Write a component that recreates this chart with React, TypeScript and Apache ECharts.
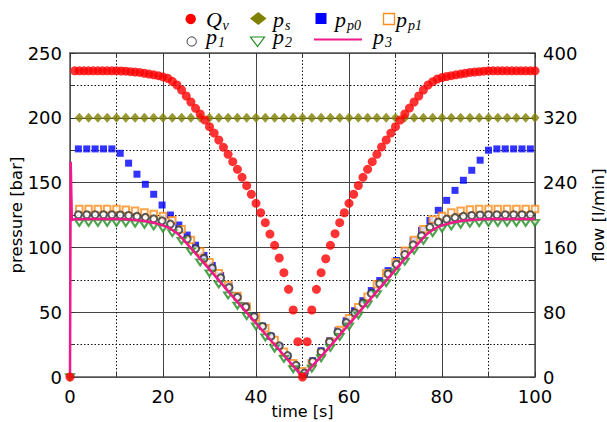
import React, { useEffect, useRef } from 'react';
import * as echarts from 'echarts';

// ---- axes ----
const timeRange = [0, 100];
const timeInterval = 20;
const pressureRange = [0, 250];
const pressureInterval = 50;
const flowRange = [0, 400];
const flowInterval = 80;

// ---- data ----
// Q_v [l/min], sampled every 1 s from t = 0
const qvStep = 1;
const qvValues = [
  0,
  378, 378, 378, 378, 378, 378, 378, 378, 378, 378,
  377.8, 377.5, 377, 376.5, 376, 375, 374, 373, 372, 370.5,
  368.8, 365, 360.5, 354.3, 346.9, 339.5, 331.7, 324.7, 317.3, 309,
  301.2, 292.6, 283.6, 274.9, 265.8, 256.4, 246.5, 236.2, 225.6, 214.4,
  202.8, 190.5, 176.5, 162.6, 146.9, 128.8, 108.3, 82.7, 43.6, 0,
  43.6, 82.7, 108.3, 128.8, 146, 162.6, 177, 190.5, 202.8, 214.4,
  225.6, 236.3, 246.5, 256.4, 265.8, 274.9, 284, 292.6, 301.2, 309,
  317.3, 324.7, 332, 339.5, 346.9, 354.3, 360.5, 364.6, 367.9, 369.6,
  371, 372, 373, 374, 375, 376, 376.5, 377, 377.5, 378,
  378, 378, 378, 378, 378, 378, 378, 378, 378, 378,
];

// p_p0 and p_1 [bar], sampled every 1.8 s from t = 1.8
const fineStep = 1.8;
const pp0Values = [
  176, 176, 176, 176, 176, 172.6, 165, 156.5, 148.7, 141,
  132.7, 125, 117.3, 109.5, 101.7, 93.8, 86, 78.2, 70.4, 62.6,
  54.8, 47, 39.2, 31.4, 23.6, 15.8, 8, 3, 12.5, 20.2,
  28, 35.7, 43.4, 51.2, 58.9, 66.7, 74.4, 82.1, 89.9, 97.6,
  105.4, 113.1, 120.8, 128.6, 136.3, 144, 151.8, 159.5, 167.3, 175,
  176, 176, 176, 176, 176,
];
const p1Values = [
  125.2, 125.2, 125.2, 125.2, 125.2, 125, 124.6, 124, 123.2, 122,
  120.5, 118, 113.5, 106.5, 99, 91.5, 84, 76.5, 69, 61.5,
  54, 46.5, 39, 31.5, 24, 16.5, 9, 3, 12, 19.5,
  27, 34.5, 42, 49.5, 57, 64.5, 72, 79.5, 87, 94.5,
  102, 109, 115.5, 119.5, 121.8, 123, 124, 124.6, 125, 125.2,
  125.2, 125.2, 125.2, 125.2, 125.2,
];

// p_s, p_p1 [bar], sampled every 2 s from t = 2
const coarseStep = 2;
const psValues = [
  200, 200, 200, 200, 200, 200, 200, 200, 200, 200,
  200, 200, 200, 200, 200, 200, 200, 200, 200, 200,
  200, 200, 200, 200, 200, 200, 200, 200, 200, 200,
  200, 200, 200, 200, 200, 200, 200, 200, 200, 200,
  200, 200, 200, 200, 200, 200, 200, 200, 200, 200,
];
const pp1Values = [
  129.6, 129.6, 129.6, 129.6, 129.6, 129.1, 128.2, 127, 125.7, 124.2,
  121, 114, 105.7, 96.9, 88.5, 80, 71, 62.5, 54.2, 46,
  37.6, 28.5, 19.5, 10.6, 4.5, 10.6, 18.3, 27.2, 36.3, 45.3,
  53.8, 62, 71.5, 80, 88.5, 97.5, 105.7, 114, 121.5, 124.2,
  127, 128.3, 129.2, 129.6, 129.6, 129.6, 129.6, 129.6, 129.6, 129.6,
];
// p_2 [bar], sampled every 2 s from t = 0
const p2Values = [
  0,
  119, 119, 119, 119, 119, 118.8, 118.3, 117.5, 116.3, 114.5,
  111, 105, 97, 88.5, 80, 71.5, 63, 55, 47, 39,
  30.5, 22, 14, 6, 1, 6.5, 14.5, 22.5, 31, 39,
  47.5, 56, 64, 72.5, 81, 89, 97.5, 105, 111, 114.5,
  116.3, 117.5, 118.3, 118.8, 119, 119, 119, 119, 119, 119,
];

// p_3 [bar], continuous line
const p3Time = [0, 0.15, 0.4, 1, 5, 10, 12, 14, 16, 18, 20, 21, 22, 23, 24, 25, 30, 35, 40, 45, 50,
  55, 60, 65, 70, 75, 76, 77, 78, 79, 80, 82, 84, 86, 88, 90, 100];
const p3Values = [0, 166, 121, 121.8, 122, 122, 121.7, 121.2, 120.3, 119, 117, 115.5, 113.5, 111, 107.5, 103.5, 83, 62, 41.5, 20.8, 0.3,
  19.8, 40.8, 61.8, 82.8, 103.5, 107.5, 111, 113.5, 115.5, 117, 119, 120.3, 121.2, 121.7, 122, 122];

// legend labels: [main symbol, subscript]
const legendLabels: [string, string][] = [
  ['Q', 'v'], ['p', 's'], ['p', 'p0'], ['p', 'p1'],
  ['p', '1'], ['p', '2'], ['p', '3'],
];

const pair = (values: number[], step: number, start: number) =>
  values.map((v, i) => [start + i * step, v]);

const SANS = '"DejaVu Sans", Verdana, sans-serif';
const SERIF = '"Liberation Serif", "Times New Roman", serif';

const C_RED = '#ff0000';
const C_OLIVE = '#808000';
const C_BLUE = '#0000ff';
const C_ORANGE = '#ff8c1a';
const C_DARK = '#333333';
const C_GREEN = '#1e8c1e';
const C_PINK = '#f0188a';

function mathLabel(x: number, yMid: number, idx: number, subDx: number) {
  const [main, sub] = legendLabels[idx];
  return [
    {
      type: 'text', x, y: yMid,
      style: {
        text: main, fontFamily: SERIF, fontStyle: 'italic', fontSize: 22, lineHeight: 16,
        fill: '#000', verticalAlign: 'middle', align: 'left',
      },
    },
    {
      type: 'text', x: x + subDx, y: yMid + 6,
      style: {
        text: sub, fontFamily: SERIF, fontStyle: 'italic', fontSize: 14, lineHeight: 10,
        fill: '#000', verticalAlign: 'middle', align: 'left',
      },
    },
  ];
}

function buildLegend() {
  const r1 = 19.5;
  const r2 = 36.3;
  const els: any[] = [
    { type: 'circle', shape: { cx: 190.7, cy: 19, r: 5.2 }, style: { fill: C_RED } },
    ...mathLabel(206, r1, 0, 16.5),
    { type: 'polygon', shape: { points: [[250, 18.5], [258.3, 12], [266.5, 18.5], [258.3, 25]] }, style: { fill: C_OLIVE } },
    ...mathLabel(273, r1, 1, 12),
    { type: 'rect', shape: { x: 315.5, y: 13, width: 11, height: 11 }, style: { fill: C_BLUE } },
    ...mathLabel(335, r1, 2, 12),
    { type: 'rect', shape: { x: 383.5, y: 13.5, width: 11, height: 11 }, style: { fill: 'none', stroke: C_ORANGE, lineWidth: 1.3 } },
    ...mathLabel(396, r1, 3, 12),

    { type: 'circle', shape: { cx: 191.7, cy: 41.5, r: 4.6 }, style: { fill: '#fff', stroke: C_DARK, lineWidth: 1 } },
    ...mathLabel(206, r2, 4, 12),
    { type: 'polygon', shape: { points: [[250.5, 37], [264.5, 37], [257.5, 46.5]] }, style: { fill: 'none', stroke: C_GREEN, lineWidth: 1.2 } },
    ...mathLabel(273, r2, 5, 12),
    { type: 'line', shape: { x1: 314, y1: 39.5, x2: 362, y2: 39.5 }, style: { stroke: C_PINK, lineWidth: 2.2 } },
    ...mathLabel(373, r2, 6, 12),
  ];
  return els;
}

export default function App() {
  const ref = useRef<HTMLDivElement>(null);
  useEffect(() => {
    if (!ref.current) return;
    const chart = echarts.init(ref.current, undefined, { renderer: 'svg' });
    const axisLineStyle = { color: '#555', width: 1.5 };
    const tickStyle = { color: '#333' };
    const labelStyle = { fontSize: 18, color: '#000', fontFamily: SANS };
    const nameStyle = { fontSize: 16.5, color: '#000', fontFamily: SANS };
    const option: any = {
      animation: false,
      backgroundColor: '#ffffff',
      textStyle: { fontFamily: SANS },
      grid: { left: 70, right: 72, top: 53, bottom: 45, containLabel: false, outerBoundsMode: 'none' },
      xAxis: [
        {
          type: 'value', min: timeRange[0], max: timeRange[1], interval: timeInterval, position: 'bottom',
          name: 'time [s]', nameLocation: 'middle', nameGap: 26, nameMoveOverlap: false,
          nameTextStyle: { ...nameStyle, fontSize: 16 },
          axisLine: { show: true, onZero: false, lineStyle: axisLineStyle },
          axisTick: { show: true, inside: true, length: 5, lineStyle: tickStyle },
          minorTick: { show: true, splitNumber: 2, length: 5, lineStyle: tickStyle },
          axisLabel: { ...labelStyle, margin: 10 },
          splitLine: { show: true, lineStyle: { color: '#444', width: 1 } },
          minorSplitLine: { show: true, lineStyle: { color: '#111', width: 1, type: [1.5, 2] } },
        },
        {
          type: 'value', min: timeRange[0], max: timeRange[1], interval: timeInterval, position: 'top',
          axisLine: { show: true, onZero: false, lineStyle: axisLineStyle },
          axisTick: { show: true, inside: true, length: 5, lineStyle: tickStyle },
          minorTick: { show: true, splitNumber: 2, length: 5, lineStyle: tickStyle },
          axisLabel: { show: false },
          splitLine: { show: false },
        },
      ],
      yAxis: [
        {
          type: 'value', min: pressureRange[0], max: pressureRange[1], interval: pressureInterval, position: 'left',
          name: 'pressure [bar]', nameLocation: 'middle', nameGap: 45, nameRotate: 90, nameMoveOverlap: false,
          nameTextStyle: nameStyle,
          axisLine: { show: true, onZero: false, lineStyle: axisLineStyle },
          axisTick: { show: true, inside: true, length: 5, lineStyle: tickStyle },
          minorTick: { show: true, splitNumber: 2, length: 5, lineStyle: tickStyle },
          axisLabel: { ...labelStyle, margin: 8 },
          splitLine: { show: true, lineStyle: { color: '#444', width: 1 } },
          minorSplitLine: { show: true, lineStyle: { color: '#111', width: 1, type: [1.5, 2] } },
        },
        {
          type: 'value', min: flowRange[0], max: flowRange[1], interval: flowInterval, position: 'right',
          name: 'flow [l/min]', nameLocation: 'middle', nameGap: 55, nameRotate: 90, nameMoveOverlap: false,
          nameTextStyle: nameStyle,
          axisLine: { show: true, onZero: false, lineStyle: axisLineStyle },
          axisTick: { show: true, inside: true, length: 5, lineStyle: tickStyle },
          minorTick: { show: true, splitNumber: 2, length: 5, lineStyle: tickStyle },
          axisLabel: { ...labelStyle, margin: 8 },
          splitLine: { show: false },
        },
      ],
      graphic: buildLegend(),
      series: [
        {
          name: 'p_s', type: 'scatter', yAxisIndex: 0, symbol: 'diamond', symbolSize: [9, 10],
          itemStyle: { color: C_OLIVE }, data: pair(psValues, coarseStep, coarseStep), z: 2,
        },
        {
          name: 'p_p0', type: 'scatter', yAxisIndex: 0, symbol: 'rect', symbolSize: 7,
          itemStyle: { color: C_BLUE }, data: pair(pp0Values, fineStep, fineStep), z: 3,
        },
        {
          name: 'p_p1', type: 'scatter', yAxisIndex: 0, symbol: 'emptyRect', symbolSize: 6.5,
          itemStyle: { color: C_ORANGE, borderColor: C_ORANGE, borderWidth: 1 }, data: pair(pp1Values, coarseStep, coarseStep), z: 4,
        },
        {
          name: 'p_1', type: 'scatter', yAxisIndex: 0, symbol: 'emptyCircle', symbolSize: 7,
          itemStyle: { color: C_DARK, borderColor: C_DARK, borderWidth: 1 }, data: pair(p1Values, fineStep, fineStep), z: 5,
        },
        {
          name: 'p_2', type: 'scatter', yAxisIndex: 0, symbol: 'emptyTriangle', symbolSize: [8, 6], symbolRotate: 180,
          itemStyle: { color: C_GREEN, borderColor: C_GREEN, borderWidth: 1 }, data: pair(p2Values, coarseStep, 0), z: 6,
        },
        {
          name: 'p_3', type: 'line', yAxisIndex: 0, showSymbol: false, symbol: 'none',
          lineStyle: { color: C_PINK, width: 2.5 }, data: p3Time.map((t, i) => [t, p3Values[i]]), z: 7,
        },
        {
          name: 'Q_v', type: 'scatter', yAxisIndex: 1, symbol: 'circle', symbolSize: 9,
          itemStyle: { color: C_RED }, data: pair(qvValues, qvStep, 0), z: 8,
        },
      ],
    };
    chart.setOption(option);
    return () => chart.dispose();
  }, []);
  return (
    <div
      ref={ref}
      style={{ position: 'fixed', left: 0, top: 0, width: 607, height: 422, background: '#fff' }}
    />
  );
}
